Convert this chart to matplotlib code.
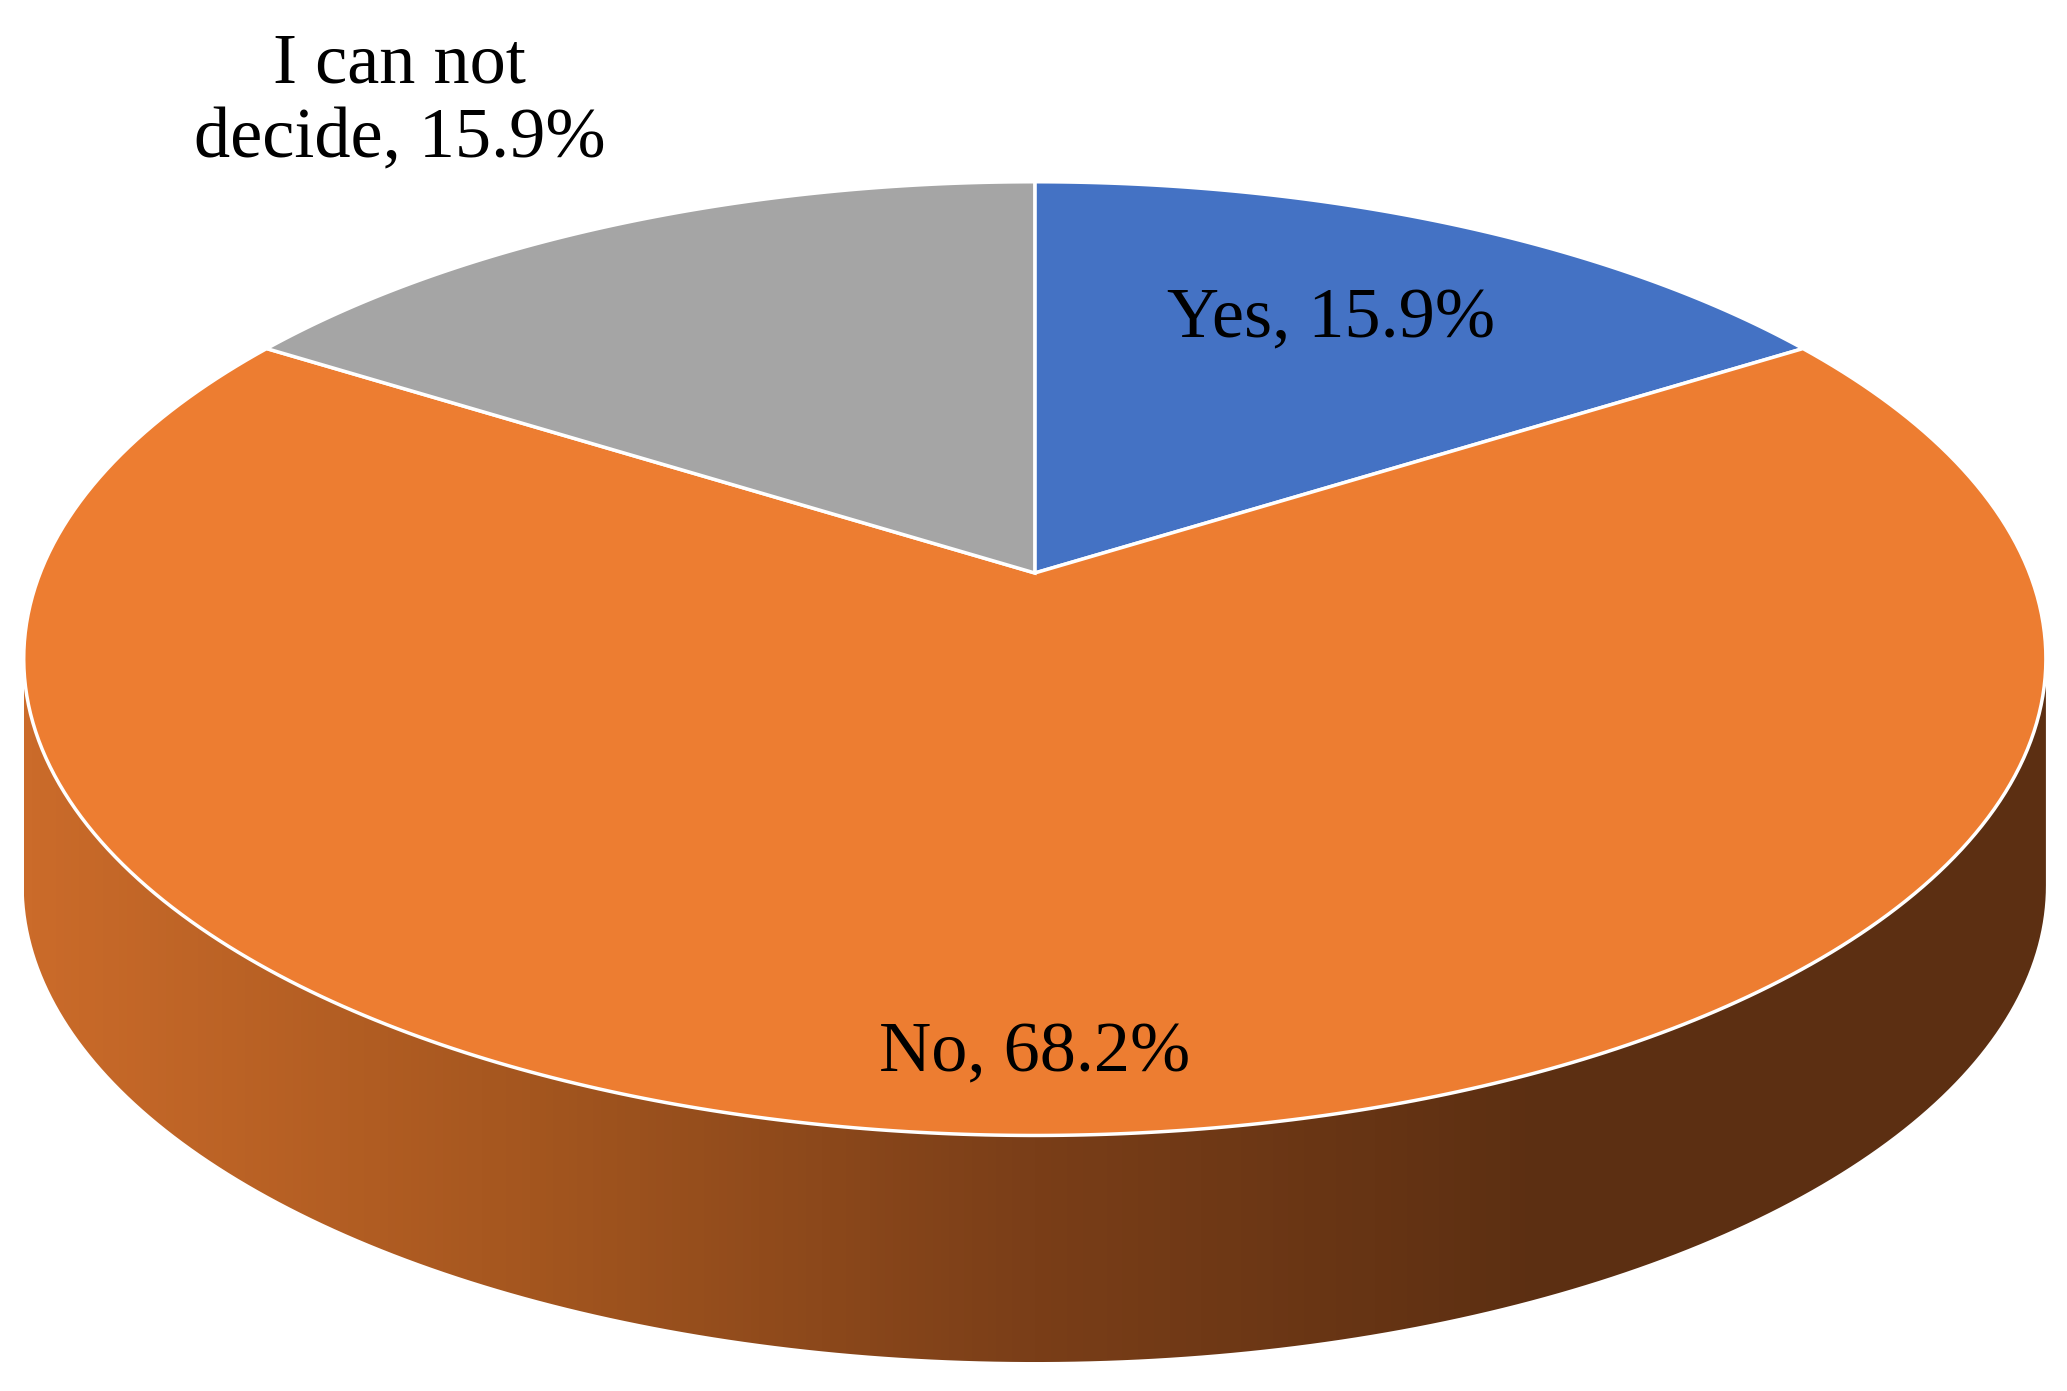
import numpy as np
import matplotlib
matplotlib.use("Agg")
import matplotlib.pyplot as plt
from matplotlib.patches import Polygon
from matplotlib.colors import LinearSegmentedColormap

labels = ["Yes", "No", "I can not\ndecide"]
values = [15.9, 68.2, 15.9]
colors = ["#4472C4", "#ED7D31", "#A5A5A5"]

W, H = 1568, 1056
cx, cy, rx, ry, depth = 785, 500, 767, 362, 172
apex = (785, 435)
k = 1.33  # perspective stretch of angles

fig = plt.figure(figsize=(20.67, 13.91), dpi=100)
ax = fig.add_axes([0, 0, 1, 1])
ax.set_xlim(0, W); ax.set_ylim(H, 0); ax.axis("off")

def param(theta):
    r = np.radians(theta)
    return np.arctan2(k*np.sin(r), np.cos(r))

def pt_t(t, dy=0):
    return cx + rx*np.cos(t), cy - ry*np.sin(t) + dy

# side
ts = np.linspace(np.pi, 2*np.pi, 200)
top = np.array([pt_t(t) for t in ts])
bot = np.array([pt_t(t, depth) for t in ts[::-1]])
side = Polygon(np.vstack([top, bot]), closed=True, fc="none", ec="none")
ax.add_patch(side)
cmap = LinearSegmentedColormap.from_list("s", ["#CB6B2A", "#A4561F", "#7A3E18", "#5C2F12", "#5C2F12"])
grad = np.linspace(0, 1, 256)[None, :]
im = ax.imshow(grad, cmap=cmap, extent=[cx-rx, cx+rx, cy+ry+depth+5, cy-5], aspect="auto", zorder=1)
im.set_clip_path(side)

total = sum(values)
start = 90.0
for v, c in zip(values, colors):
    span = 360*v/total
    angs = np.linspace(start, start - span, 300)
    tt = np.unwrap([param(a) for a in angs])
    pts = [apex] + [pt_t(t) for t in tt]
    ax.add_patch(Polygon(pts, closed=True, fc=c, ec="white", lw=2.5, zorder=2))
    start -= span

font = dict(family="Liberation Serif", fontsize=52, color="black", ha="center", va="center", zorder=5)
ax.text(1010, 243, f"{labels[0]}, {values[0]}%", **font)
ax.text(785, 800, f"{labels[1]}, {values[1]}%", **font)
ax.text(303, 78, f"{labels[2]}, {values[2]}%", linespacing=1.2, **font)

fig.savefig("out.png", dpi=100, facecolor="white")
